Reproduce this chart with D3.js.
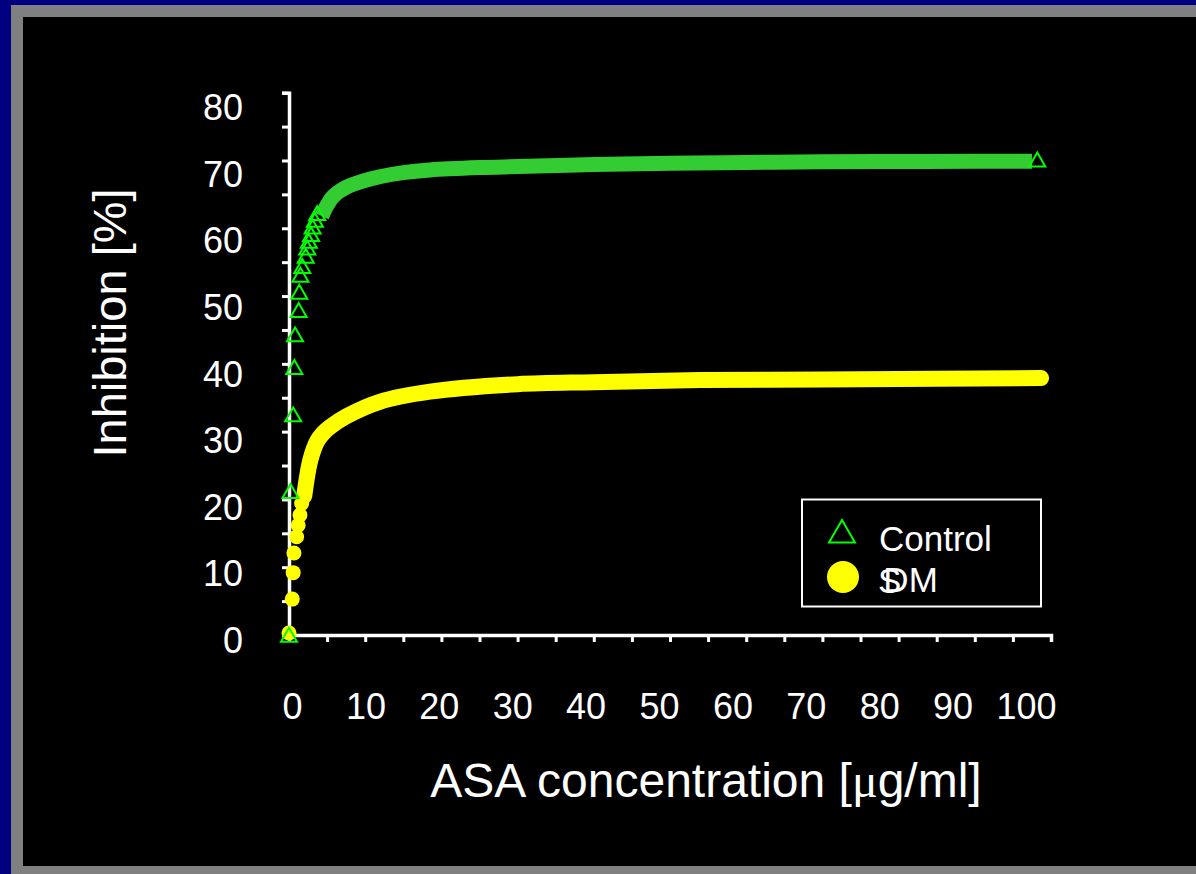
<!DOCTYPE html>
<html>
<head>
<meta charset="utf-8">
<script src="https://cdn.jsdelivr.net/npm/d3@7"></script>
<style>
  html, body { margin: 0; padding: 0; background: #000080; }
  svg { display: block; }
</style>
</head>
<body>
<svg id="chart" width="1196" height="874"></svg>
<script>
// Control group: individual low-dose readings (triangles) and the fitted curve
const controlPointsX = [0, 0.2, 0.55, 0.7, 0.8, 1.27, 1.35, 1.5, 1.75, 2.2, 2.4, 2.6, 2.9, 3.1, 3.4, 3.7, 98.2];
const controlPointsY = [-0.3, 20.9, 32.2, 39.2, 44.0, 47.6, 50.3, 52.8, 54.1, 55.6, 56.8, 57.8, 58.8, 59.9, 60.9, 61.9, 69.8];
const controlCurveX = [4.3, 5.0, 5.8, 7.6, 9.8, 11.9, 15, 18.5, 25, 30, 40, 50, 60, 70, 80, 90, 97.5];
const controlCurveY = [61.8, 63.4, 64.7, 66.1, 67.0, 67.6, 68.2, 68.6, 68.95, 69.1, 69.4, 69.6, 69.7, 69.8, 69.85, 69.9, 69.9];

// DM group: individual low-dose readings (circles) and the fitted curve
const dmPointsX = [0, 0.43, 0.55, 0.65, 1.0, 1.2, 1.44, 1.66];
const dmPointsY = [0.3, 5.3, 9.2, 12.1, 14.5, 16.2, 17.7, 19.4];
const dmCurveX = [2.0, 2.8, 3.7, 4.5, 5.4, 7.6, 11.9, 18.5, 30, 40, 54, 70, 85, 98.7];
const dmCurveY = [20.5, 25.8, 28.6, 29.8, 30.7, 32.3, 34.4, 35.9, 37.0, 37.3, 37.6, 37.7, 37.8, 37.9];

// Axis ticks and labels
const xTickMarks = [0, 5, 10, 15, 20, 25, 30, 35, 40, 45, 50, 55, 60, 65, 70, 75, 80, 85, 90, 95, 100];
const yTickMarks = [0, 5, 10, 15, 20, 25, 30, 35, 40, 45, 50, 55, 60, 65, 70, 75, 80];
const xTickLabels = [0, 10, 20, 30, 40, 50, 60, 70, 80, 90, 100];
const yTickLabels = [0, 10, 20, 30, 40, 50, 60, 70, 80];

const seriesNames = ["Control", "SDM"];

const FONT = "'Liberation Sans', Arial, sans-serif";
const svg = d3.select("#chart");

// slide frame: navy edge, grey border, black panel
svg.append("rect").attr("x", 0).attr("y", 0).attr("width", 1196).attr("height", 874).attr("fill", "#000080");
svg.append("rect").attr("x", 11).attr("y", 5).attr("width", 1185).attr("height", 869).attr("fill", "#808080");
svg.append("rect").attr("x", 23).attr("y", 17).attr("width", 1173).attr("height", 849).attr("fill", "#000000");

const x = d3.scaleLinear().domain([0, 100]).range([289, 1051]);
const y = d3.scaleLinear().domain([0, 80]).range([635, 92.7]);

// tick labels sit on their own slightly offset scales
const xLabelPos = d3.scaleLinear().domain([0, 100]).range([292, 1026]);
const yLabelPos = d3.scaleLinear().domain([0, 80]).range([641, 108]);

// axis lines with tick marks
const xAxisG = svg.append("g")
  .attr("transform", `translate(0,${y(0)})`)
  .call(d3.axisBottom(x).tickValues(xTickMarks).tickSize(7).tickSizeOuter(7).tickFormat(""));
const yAxisG = svg.append("g")
  .attr("transform", `translate(${x(0)},0)`)
  .call(d3.axisLeft(y).tickValues(yTickMarks).tickSize(7).tickSizeOuter(7).tickFormat(""));
[xAxisG, yAxisG].forEach(g => {
  g.select(".domain").attr("stroke", "#fff").attr("stroke-width", 3.5);
  g.selectAll(".tick line").attr("stroke", "#fff").attr("stroke-width", 3);
});

// tick labels
const xLabG = svg.append("g")
  .attr("transform", `translate(0,${y(0)})`)
  .call(d3.axisBottom(xLabelPos).tickValues(xTickLabels).tickSize(0).tickPadding(58));
const yLabG = svg.append("g")
  .attr("transform", `translate(${x(0)},0)`)
  .call(d3.axisLeft(yLabelPos).tickValues(yTickLabels).tickSize(0).tickPadding(46));
[xLabG, yLabG].forEach(g => {
  g.select(".domain").remove();
  g.selectAll("text").attr("fill", "#fff").style("font-family", FONT).style("font-size", "36px");
});

// axis titles
svg.append("text")
  .attr("transform", "translate(126,323) rotate(-90)")
  .attr("text-anchor", "middle")
  .attr("fill", "#fff")
  .style("font-family", FONT).style("font-size", "47px")
  .text("Inhibition [%]");

const xt = svg.append("text")
  .attr("x", 706).attr("y", 797)
  .attr("text-anchor", "middle")
  .attr("fill", "#fff")
  .style("font-family", FONT).style("font-size", "48px");
xt.append("tspan").text("ASA concentration [");
xt.append("tspan").style("font-family", "'Liberation Serif', 'DejaVu Serif', serif").text("μ");
xt.append("tspan").text("g/ml]");

const line = d3.line().x(d => x(d[0])).y(d => y(d[1])).curve(d3.curveCatmullRom.alpha(0.5));

// DM curve and points
svg.append("path")
  .datum(d3.zip(dmCurveX, dmCurveY))
  .attr("d", line)
  .attr("fill", "none").attr("stroke", "#ffff00").attr("stroke-width", 16)
  .attr("stroke-linecap", "round").attr("stroke-linejoin", "round");
svg.append("g").selectAll("circle")
  .data(d3.zip(dmPointsX, dmPointsY))
  .join("circle")
  .attr("cx", d => x(d[0])).attr("cy", d => y(d[1])).attr("r", 7.5)
  .attr("fill", "#ffff00");

// Control curve and points
svg.append("path")
  .datum(d3.zip(controlCurveX, controlCurveY))
  .attr("d", line)
  .attr("fill", "none").attr("stroke", "#33cc33").attr("stroke-width", 15)
  .attr("stroke-linecap", "butt").attr("stroke-linejoin", "round");
const tri = d3.symbol().type(d3.symbolTriangle).size(111);
svg.append("g").selectAll("path")
  .data(d3.zip(controlPointsX, controlPointsY))
  .join("path")
  .attr("d", tri)
  .attr("transform", d => `translate(${x(d[0])},${y(d[1])})`)
  .attr("fill", "none").attr("stroke", "#00ff00").attr("stroke-width", 2);

// legend
const lg = svg.append("g");
lg.append("rect").attr("x", 802).attr("y", 499.5).attr("width", 239).attr("height", 107)
  .attr("fill", "none").attr("stroke", "#fff").attr("stroke-width", 2);
lg.append("path").attr("d", d3.symbol().type(d3.symbolTriangle).size(292)())
  .attr("transform", "translate(842,535)")
  .attr("fill", "none").attr("stroke", "#00ff00").attr("stroke-width", 2);
lg.append("circle").attr("cx", 843).attr("cy", 577).attr("r", 16).attr("fill", "#ffff00");
lg.append("text").attr("x", 879).attr("y", 551).attr("fill", "#fff")
  .style("font-family", FONT).style("font-size", "35px").text(seriesNames[0]);
// the leading S is set back over the D, as on the original slide
lg.append("text").attr("x", 878).attr("y", 593).attr("dx", "0 -18 0").attr("dy", "0 -1 0")
  .attr("fill", "#fff")
  .style("font-family", FONT).style("font-size", "35px").text(seriesNames[1]);
</script>
</body>
</html>
